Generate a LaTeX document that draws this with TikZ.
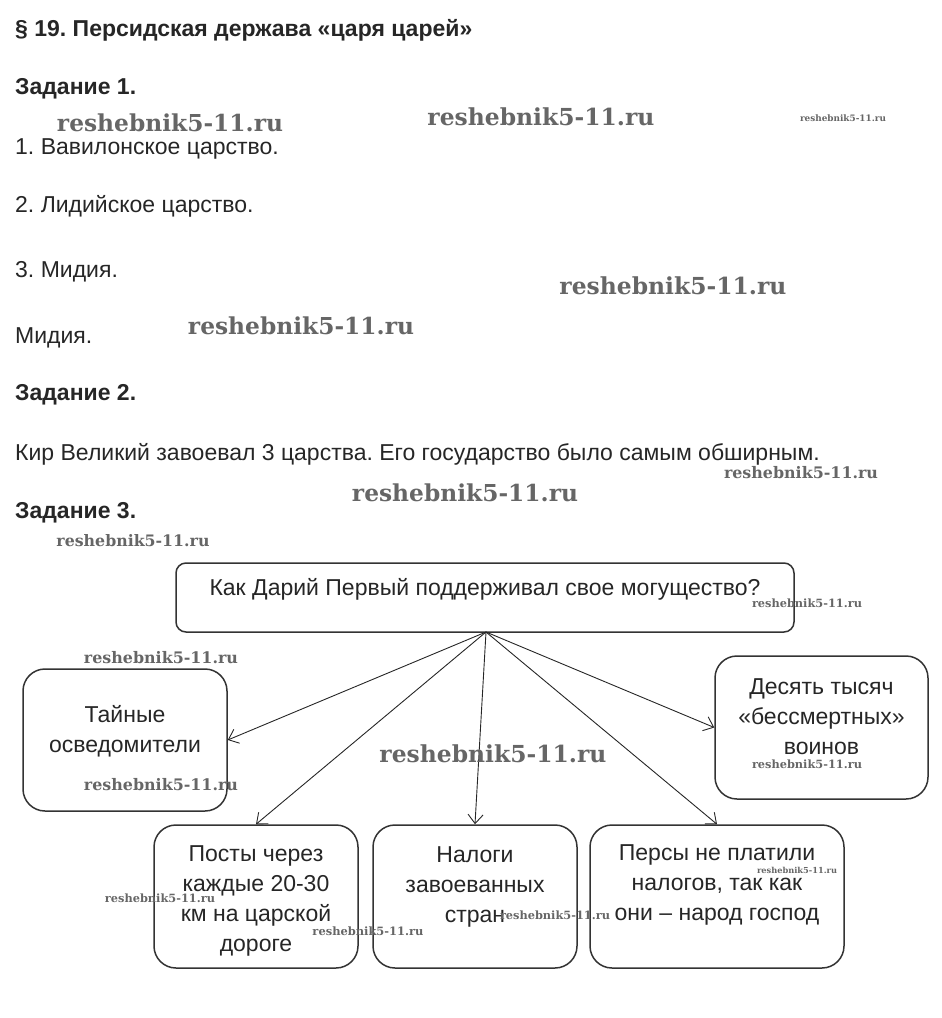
\documentclass[tikz,border=0pt]{standalone}
\usepackage{graphicx}
\usepackage{fontspec}
\setmainfont{Liberation Sans}
\newfontfamily\wmfont{DejaVu Serif}
\usetikzlibrary{arrows.meta}
\frenchspacing
\newcommand\wmk[1]{\resizebox{#1pt}{!}{\wmfont\bfseries reshebnik5-11.ru}}
\begin{document}
\begin{tikzpicture}[x=1pt,y=-1pt,
  txt/.style={anchor=base west,inner sep=0pt,font=\fontsize{23}{27}\selectfont,text=black!85},
  head/.style={anchor=base west,inner sep=0pt,font=\fontsize{23}{27}\selectfont\bfseries,text=black!85},
  box/.style={draw=black!80,line width=1.5pt,rounded corners=22pt,inner sep=0pt},
  btxt/.style={align=center,inner sep=0pt,font=\fontsize{23}{30}\selectfont,text=black!85},
  arr/.style={-{Straight Barb[length=9pt,width=15pt]},line width=0.9pt,draw=black!85},
  wm/.style={inner sep=0pt,text=black!60}]
\useasboundingbox (0,0) rectangle (942,1018);
% texts
\node[head] (title) at (15,36) {§ 19. Персидская держава «царя царей»};
\node[head] (z1) at (15,94) {Задание 1.};
\node[txt] (a1) at (15,154) {1. Вавилонское царство.};
\node[txt] (a2) at (15,212) {2. Лидийское царство.};
\node[txt] (a3) at (15,277) {3. Мидия.};
\node[txt] (a4) at (15,343) {Мидия.};
\node[head] (z2) at (15,400) {Задание 2.};
\node[txt] (k) at (15,460) {Кир Великий завоевал 3 царства. Его государство было самым обширным.};
\node[head] (z3) at (15,518) {Задание 3.};
% boxes
\node[box,rounded corners=10pt,minimum width=618pt,minimum height=69pt] (q) at (485,597.5) {};
\node[box,minimum width=204pt,minimum height=142pt] (tl) at (125,740) {};
\node[box,minimum width=213pt,minimum height=143pt] (r) at (821.5,727.5) {};
\node[box,minimum width=204pt,minimum height=143pt] (b1) at (256,896.5) {};
\node[box,minimum width=204pt,minimum height=143pt] (b2) at (475,896.5) {};
\node[box,minimum width=254pt,minimum height=143pt] (b3) at (717,896.5) {};
\node[btxt] (qt) at (485,589) {Как Дарий Первый поддерживал свое могущество?};
\node[btxt] (tlt) at (125,731) {Тайные\\осведомители};
\node[btxt] (rt) at (821.5,717) {Десять тысяч\\«бессмертных»\\воинов};
\node[btxt] (b1t) at (256,901) {Посты через\\каждые 20-30\\км на царской\\дороге};
\node[btxt] (b2t) at (475,887) {Налоги\\завоеванных\\стран};
\node[btxt] (b3t) at (717,885) {Персы не платили\\налогов, так как\\они – народ господ};
% arrows
\coordinate (src) at (486,632);
\draw[arr] (src) -- (tl.east);
\draw[arr] (src) -- (b1.north);
\draw[arr] (src) -- (b2.north);
\draw[arr] (src) -- (b3.north);
\draw[arr] (src) -- (r.west);
% watermarks
\node[wm] (w1) at (170,123) {\wmk{226}};
\node[wm] (w2) at (541,117) {\wmk{227}};
\node[wm] (w3) at (843,118) {\wmk{86}};
\node[wm] (w4) at (673,286) {\wmk{227}};
\node[wm] (w5) at (301,326) {\wmk{226}};
\node[wm] (w6) at (801,473) {\wmk{154}};
\node[wm] (w7) at (465,493) {\wmk{226}};
\node[wm] (w8) at (133,541) {\wmk{153}};
\node[wm] (w9) at (161,658) {\wmk{154}};
\node[wm] (w10) at (493,754) {\wmk{227}};
\node[wm] (w11) at (161,785) {\wmk{154}};
\node[wm] (w12) at (807,603) {\wmk{110}};
\node[wm] (w13) at (807,764) {\wmk{110}};
\node[wm] (w14) at (160,898) {\wmk{110}};
\node[wm] (w15) at (368,931) {\wmk{111}};
\node[wm] (w16) at (555,915) {\wmk{110}};
\node[wm] (w17) at (797,870) {\wmk{80}};
\end{tikzpicture}
\end{document}
